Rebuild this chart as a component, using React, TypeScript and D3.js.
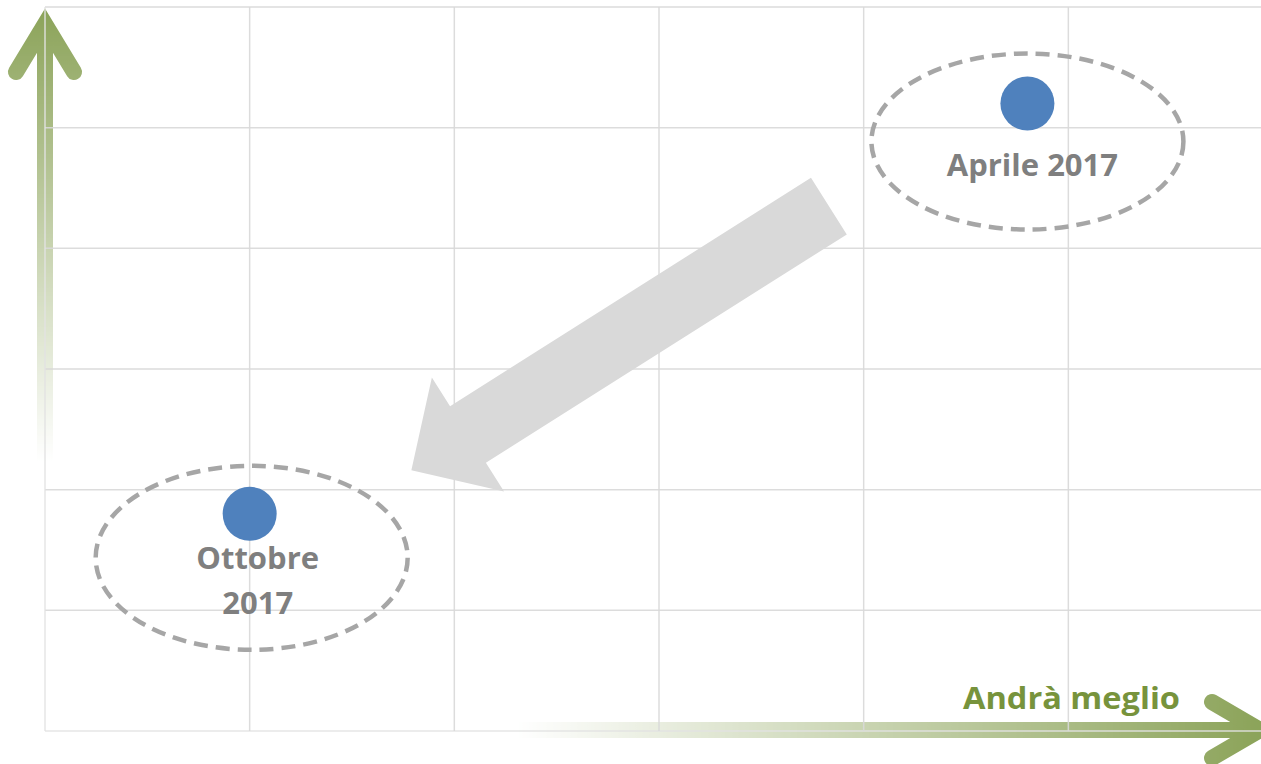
import React from "react";
import * as d3 from "d3";

// ---- data ----
const xTicks = [0, 1, 2, 3, 4, 5, 6];
const yTicks = [0, 1, 2, 3, 4, 5, 6];
const pointNames = ["Aprile 2017", "Ottobre 2017"];
const pointLines = [["Aprile 2017"], ["Ottobre", "2017"]];
const pointX = [4.8, 1.0];
const pointY = [5.2, 1.8];
const axisLabel = "Andrà meglio";
// big trend arrow (data units)
const trendFrom = [3.83, 4.35];
const trendTo = [1.79, 2.16];

const W = 1261;
const H = 764;

export default function App() {
  const x = d3.scaleLinear().domain([0, 6]).range([45, 45 + 6 * 204.67]);
  const y = d3.scaleLinear().domain([0, 6]).range([731, 7]);
  const xEnd = W;

  const ell = [
    { dx: 0, dy: 38, rx: 156, ry: 88, textDx: 5, textDy: 72.5 },
    { dx: 2, dy: 44, rx: 156, ry: 92, textDx: 8, textDy: 55.5 },
  ];

  const tx0 = x(trendFrom[0]), ty0 = y(trendFrom[1]);
  const tx1 = x(trendTo[0]), ty1 = y(trendTo[1]);
  const len = Math.hypot(tx1 - tx0, ty1 - ty0);
  const ux = (tx1 - tx0) / len, uy = (ty1 - ty0) / len;
  const px = -uy, py = ux;
  const shaftW = 67, headW = 135, headL = 67;
  const bx = tx1 - ux * headL, by = ty1 - uy * headL;
  const pts: [number, number][] = [
    [tx0 + px * shaftW / 2, ty0 + py * shaftW / 2],
    [bx + px * shaftW / 2, by + py * shaftW / 2],
    [bx + px * headW / 2, by + py * headW / 2],
    [tx1, ty1],
    [bx - px * headW / 2, by - py * headW / 2],
    [bx - px * shaftW / 2, by - py * shaftW / 2],
    [tx0 - px * shaftW / 2, ty0 - py * shaftW / 2],
  ];
  const poly = d3.line()(pts.concat([pts[0]])) as string;

  const green = "#77933c";
  const x0 = x(0), y0 = y(0);
  const font = "'Open Sans', sans-serif";

  return (
    <svg width={W} height={H} style={{ position: "absolute", left: 0, top: 0, background: "#fff" }}>
      <defs>
        <linearGradient id="gv" gradientUnits="userSpaceOnUse" x1={0} y1={462} x2={0} y2={10}>
          <stop offset="0" stopColor="#fff" stopOpacity={0} />
          <stop offset="1" stopColor="#fff" stopOpacity={0.85} />
        </linearGradient>
        <linearGradient id="gh" gradientUnits="userSpaceOnUse" x1={517} y1={0} x2={1261} y2={0}>
          <stop offset="0" stopColor="#fff" stopOpacity={0} />
          <stop offset="1" stopColor="#fff" stopOpacity={0.85} />
        </linearGradient>
        <mask id="mv" maskUnits="userSpaceOnUse" x={0} y={0} width={W} height={H}>
          <rect x={0} y={0} width={120} height={H} fill="url(#gv)" />
        </mask>
        <mask id="mh" maskUnits="userSpaceOnUse" x={0} y={0} width={W} height={H}>
          <rect x={0} y={660} width={W} height={104} fill="url(#gh)" />
        </mask>
      </defs>

      {/* vertical axis arrow */}
      <g mask="url(#mv)">
        <line x1={x0} x2={x0} y1={470} y2={24} stroke={green} strokeWidth={16} />
        <path d={`M${x0 - 29},72 L${x0},24 L${x0 + 29},72`} fill="none" stroke={green}
          strokeWidth={16} strokeLinecap="round" strokeLinejoin="miter" strokeMiterlimit={10} />
      </g>

      {/* horizontal axis arrow */}
      <g mask="url(#mh)">
        <line x1={510} x2={1260} y1={730} y2={730} stroke={green} strokeWidth={16} />
        <path d={`M1212,702 L1260,730 L1212,758`} fill="none" stroke={green}
          strokeWidth={16} strokeLinecap="round" strokeLinejoin="miter" strokeMiterlimit={10} />
      </g>

      {/* gridlines */}
      {yTicks.map((t) => (
        <line key={"h" + t} x1={x0} x2={xEnd} y1={y(t)} y2={y(t)}
          stroke={t === 0 ? "#e3e3e3" : "#d9d9d9"} strokeWidth={1.5} opacity={0.9} />
      ))}
      {xTicks.map((t) => (
        <line key={"v" + t} x1={x(t)} x2={x(t)} y1={y(6)} y2={y0}
          stroke={t === 0 ? "#e3e3e3" : "#d9d9d9"} strokeWidth={1.5} opacity={0.9} />
      ))}

      {/* trend arrow */}
      <path d={poly} fill="#d9d9d9" />

      <text x={1180} y={709} textAnchor="end" fill={green} fontFamily={font}
        fontWeight={700} fontSize={29.5} textLength={217} lengthAdjust="spacingAndGlyphs">{axisLabel}</text>

      {/* points */}
      {pointNames.map((n, i) => {
        const cx = x(pointX[i]), cy = y(pointY[i]);
        const e = ell[i];
        return (
          <g key={n}>
            <ellipse cx={cx + e.dx} cy={cy + e.dy} rx={e.rx} ry={e.ry} fill="none"
              stroke="#a6a6a6" strokeWidth={4.5} strokeDasharray="14 8" />
            <circle cx={cx} cy={cy} r={27} fill="#4f81bd" />
            <text x={cx + e.textDx} y={cy + e.textDy} textAnchor="middle" fill="#7f7f7f"
              fontFamily={font} fontWeight={700} fontSize={31}>
              {pointLines[i].map((l, j) => (
                <tspan key={j} x={cx + e.textDx} dy={j === 0 ? 0 : 45}>{l}</tspan>
              ))}
            </text>
          </g>
        );
      })}
    </svg>
  );
}
